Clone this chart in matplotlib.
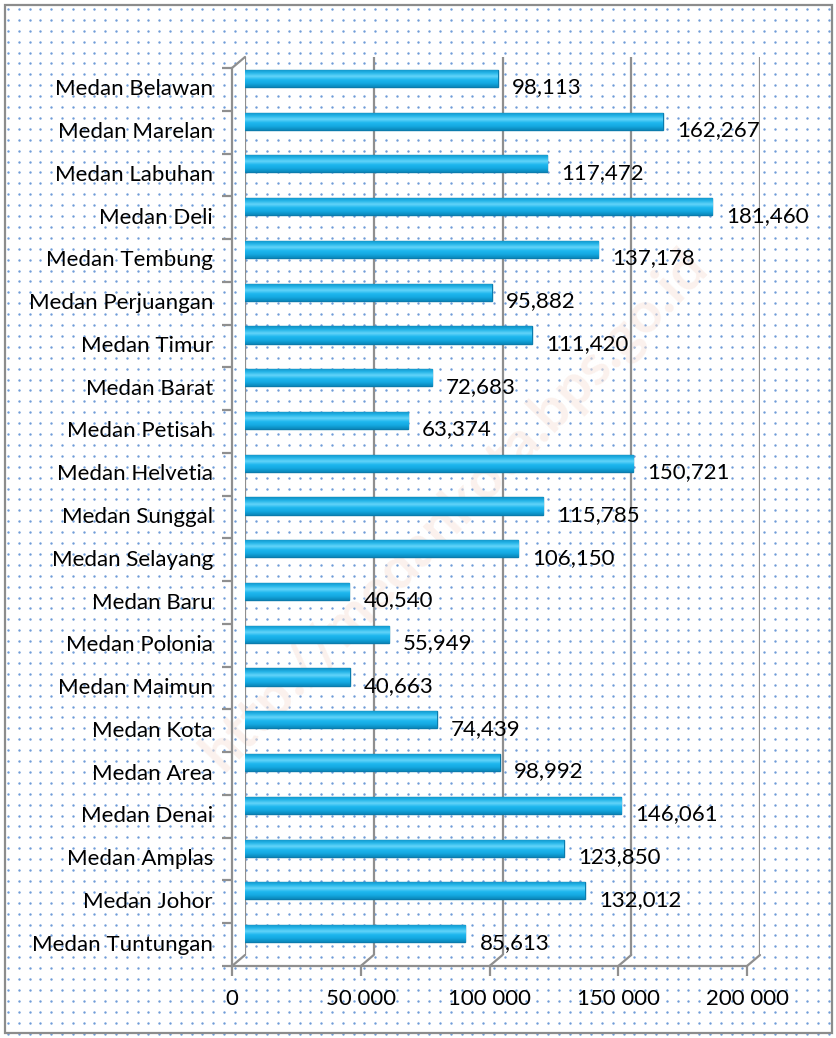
import matplotlib
matplotlib.use("Agg")
import matplotlib.pyplot as plt
import numpy as np
from matplotlib.colors import LinearSegmentedColormap
from matplotlib.transforms import ScaledTranslation

# data, top to bottom as shown in the picture
districts = ['Medan Belawan', 'Medan Marelan', 'Medan Labuhan', 'Medan Deli',
             'Medan Tembung', 'Medan Perjuangan', 'Medan Timur', 'Medan Barat',
             'Medan Petisah', 'Medan Helvetia', 'Medan Sunggal', 'Medan Selayang',
             'Medan Baru', 'Medan Polonia', 'Medan Maimun', 'Medan Kota',
             'Medan Area', 'Medan Denai', 'Medan Amplas', 'Medan Johor',
             'Medan Tuntungan']
population = [98113, 162267, 117472, 181460, 137178, 95882, 111420, 72683,
              63374, 150721, 115785, 106150, 40540, 55949, 40663, 74439,
              98992, 146061, 123850, 132012, 85613]
xticks = [0, 50000, 100000, 150000, 200000]
xticklabels = ['0', '50 000', '100 000', '150 000', '200 000']

W, H = 837, 1038
fig = plt.figure(figsize=(W / 100, H / 100), dpi=100)
plt.rcParams['font.family'] = ['Lato', 'DejaVu Sans']

# background with the dot pattern, border and watermark
bg = fig.add_axes([0, 0, 1, 1], zorder=-5)
bg.set_xlim(0, W)
bg.set_ylim(H, 0)
bg.axis('off')
gx, gy = np.meshgrid(np.arange(8, W, 10.8), np.arange(9, H, 10.9))
bg.scatter(gx.ravel(), gy.ravel(), s=3.0, color='#6f9cd8', linewidths=0)
bg.add_patch(plt.Rectangle((5, 5), 827, 1028, fill=False, ec='#8c8c8c', lw=1.6))
bg.text(455, 510, 'http://medankota.bps.go.id', rotation=46, fontsize=41,
        fontweight='bold', color='#f8e6de', alpha=0.55, ha='center', va='center')

ax = fig.add_axes([245 / W, 1 - 955 / H, 515 / W, 898 / H])
ax.set_facecolor('none')
for s in ax.spines.values():
    s.set_visible(False)
ax.set_xticks([])
ax.set_yticks([])

y = np.arange(len(districts))[::-1]
grid_c = '#8f8f8f'
top = len(districts) - 0.5


def shifted(dx, dy):
    """data transform moved by dx, dy pixels"""
    return ax.transData + ScaledTranslation(dx / 100, dy / 100, fig.dpi_scale_trans)


front = shifted(-13, -11)
line_kw = dict(arrowstyle='-', color=grid_c, lw=1.6, shrinkA=0, shrinkB=0)

# back wall gridlines and floor diagonals
for xt in xticks:
    ax.plot([xt, xt], [-0.5, top], color=grid_c, lw=1.6, zorder=1)
    ax.annotate('', xy=(xt, -0.5), xycoords=front, xytext=(xt, -0.5),
                textcoords='data', arrowprops=line_kw)
ax.annotate('', xy=(0, top), xycoords=front, xytext=(0, top),
            textcoords='data', arrowprops=line_kw)

# front axes
ax.plot([0, 200000], [-0.5, -0.5], color=grid_c, lw=1.6, transform=front, clip_on=False)
ax.plot([0, 0], [-0.5, top], color=grid_c, lw=1.6, transform=front, clip_on=False)
for xt, lab in zip(xticks, xticklabels):
    ax.plot([xt], [-0.5], marker=3, ms=7, color=grid_c, mew=1.6,
            transform=front, clip_on=False)
    ax.text(xt, -0.5, lab, transform=shifted(-13, -44), ha='center', va='center',
            fontsize=16, clip_on=False)
for k in range(len(districts) + 1):
    ax.plot([0], [k - 0.5], marker=0, ms=7, color=grid_c, mew=1.6,
            transform=front, clip_on=False)

# bars with a cylinder-like vertical gradient
h = 0.4
cyl = LinearSegmentedColormap.from_list(
    'cyl', ['#0a88bc', '#14a8e0', '#1db6ee', '#62d4f9', '#24b4e8', '#0e90c4'])
grad = np.linspace(0, 1, 64).reshape(-1, 1)
bars = ax.barh(y, population, height=h, color='#18aae2', edgecolor='#0b7cad',
               lw=1.0, zorder=3)
for b in bars:
    im = ax.imshow(grad, cmap=cyl, aspect='auto', origin='lower', zorder=4,
                   extent=[b.get_x(), b.get_x() + b.get_width(),
                           b.get_y(), b.get_y() + b.get_height()])
    im.set_clip_path(b)
ax.set_xlim(0, 200000)
ax.set_ylim(-0.5, top)

for yi, v, name in zip(y, population, districts):
    ax.text(v, yi, f'{v:,}', transform=shifted(14, -9), ha='left', va='center',
            fontsize=16, clip_on=False)
    ax.text(0, yi, name, transform=shifted(-32, -11), ha='right', va='center',
            fontsize=16, clip_on=False)

fig.savefig('out.png', dpi=100)
